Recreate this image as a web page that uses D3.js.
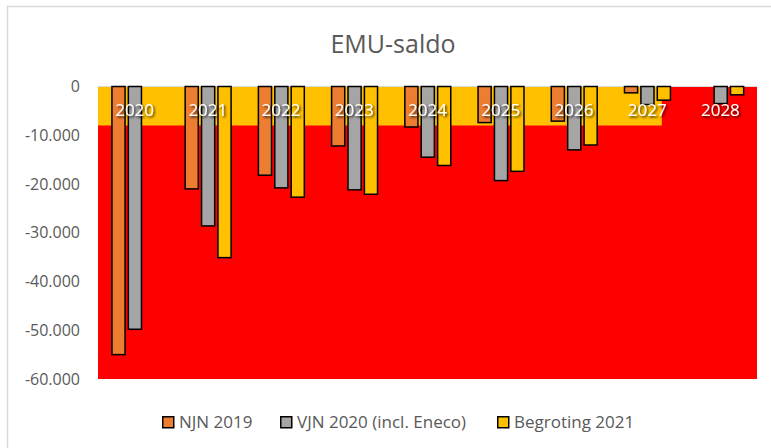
<!DOCTYPE html>
<html lang="nl">
<head>
    <meta charset="UTF-8">
    <title>EMU-saldo</title>
    <script src="https://d3js.org/d3.v7.min.js"></script>
    <style>
        body { margin: 0; padding: 0; background: #fff; font-family: "Open Sans", sans-serif; }
        svg { display: block; }
        .tick-label { fill: #595959; font-size: 16px; }
        .legend-label { fill: #595959; font-size: 17px; }
    </style>
</head>
<body>
<svg id="chart" width="771" height="448"></svg>
<script>
    const categories = ["2020", "2021", "2022", "2023", "2024", "2025", "2026", "2027", "2028"];
    const seriesNames = ["NJN 2019", "VJN 2020 (incl. Eneco)", "Begroting 2021"];
    const njn2019 = [-55000, -21000, -18200, -12200, -8300, -7400, -7100, -1300, null];
    const vjn2020 = [-49800, -28600, -20800, -21200, -14500, -19300, -13000, -3700, -3500];
    const begroting2021 = [null, -35100, -22700, -22100, -16200, -17400, -12000, -2800, -1700];
    const yTicks = [0, -10000, -20000, -30000, -40000, -50000, -60000];
    // gele zone: 0 tot -8.000, loopt tot ongeveer 70% van 2027
    const zoneTop = 0, zoneBottom = -8000, zoneEndCat = "2027", zoneEndFrac = 0.7;

    const colors = ["#ED7D31", "#A5A5A5", "#FFC000"];
    const values = [njn2019, vjn2020, begroting2021];

    const svg = d3.select("#chart");
    const margin = { top: 86.5, right: 14, bottom: 69, left: 98 };
    const W = +svg.attr("width"), H = +svg.attr("height");

    // chart kader
    svg.append("rect")
        .attr("x", 7.5).attr("y", 6.5)
        .attr("width", W + 20).attr("height", H + 20)
        .attr("fill", "none").attr("stroke", "#D9D9D9").attr("stroke-width", 1.5);

    const x0 = d3.scaleBand().domain(categories).range([margin.left, W - margin.right]);
    const x1 = d3.scaleBand().domain(seriesNames)
        .range([x0.step() * 0.168, x0.step() * 0.84])
        .paddingInner(0.2).paddingOuter(0.1);
    const y = d3.scaleLinear().domain([0, -60000]).range([margin.top, H - margin.bottom]);

    const nl = d3.formatLocale({ decimal: ",", thousands: ".", grouping: [3], currency: ["€", ""], minus: "-" });
    const fmt = nl.format(",.0f");

    // achtergrond
    svg.append("rect")
        .attr("x", x0.range()[0]).attr("y", y(0))
        .attr("width", x0.range()[1] - x0.range()[0])
        .attr("height", y(-60000) - y(0))
        .attr("fill", "#FF0000");
    svg.append("rect")
        .attr("x", x0.range()[0]).attr("y", y(zoneTop))
        .attr("width", x0(zoneEndCat) + x0.step() * zoneEndFrac - x0.range()[0])
        .attr("height", y(zoneBottom) - y(zoneTop))
        .attr("fill", "#FFC000");

    // nul-lijn
    svg.append("line")
        .attr("x1", x0.range()[0]).attr("x2", x0.range()[1])
        .attr("y1", y(0)).attr("y2", y(0))
        .attr("stroke", "#D9D9D9").attr("stroke-width", 1);

    // y-as labels
    svg.append("g").selectAll("text")
        .data(yTicks).enter().append("text")
        .attr("class", "tick-label")
        .attr("x", 80).attr("y", d => y(d))
        .attr("dy", "0.35em")
        .attr("text-anchor", "end")
        .text(d => fmt(d));

    // balken
    const groups = svg.append("g").selectAll("g")
        .data(categories).enter().append("g")
        .attr("transform", d => `translate(${x0(d)},0)`);

    groups.selectAll("rect")
        .data((c, i) => seriesNames.map((s, k) => ({ s, k, v: values[k][i] })).filter(d => d.v != null))
        .enter().append("rect")
        .attr("x", d => x1(d.s))
        .attr("y", y(0))
        .attr("width", x1.bandwidth())
        .attr("height", d => y(d.v) - y(0))
        .attr("fill", d => colors[d.k])
        .attr("stroke", "#000")
        .attr("stroke-width", 1.5);

    // categorie labels met schaduw
    const defs = svg.append("defs");
    defs.append("filter").attr("id", "shadow")
        .attr("x", "-20%").attr("y", "-20%").attr("width", "140%").attr("height", "140%")
        .append("feDropShadow")
        .attr("dx", 1.5).attr("dy", 1.5).attr("stdDeviation", 1)
        .attr("flood-color", "#000").attr("flood-opacity", 0.8);

    svg.append("g").selectAll("text")
        .data(categories).enter().append("text")
        .attr("x", d => x0(d) + x0.step() / 2)
        .attr("y", 116)
        .attr("text-anchor", "middle")
        .attr("fill", "#fff")
        .attr("font-size", "17px")
        .attr("filter", "url(#shadow)")
        .text(d => d);

    // titel
    svg.append("text")
        .attr("x", 393).attr("y", 53)
        .attr("text-anchor", "middle")
        .attr("fill", "#595959")
        .attr("font-size", "25px")
        .text("EMU-saldo");

    // legenda
    const legendX = [162, 280, 497];
    const legend = svg.append("g").selectAll("g")
        .data(seriesNames).enter().append("g")
        .attr("transform", (d, i) => `translate(${legendX[i]},416)`);
    legend.append("rect")
        .attr("width", 11).attr("height", 11)
        .attr("x", 0.75).attr("y", 0.75)
        .attr("fill", (d, i) => colors[i])
        .attr("stroke", "#000").attr("stroke-width", 1.5);
    legend.append("text")
        .attr("class", "legend-label")
        .attr("x", 17).attr("y", 6)
        .attr("dy", "0.35em")
        .text(d => d);
</script>
</body>
</html>
